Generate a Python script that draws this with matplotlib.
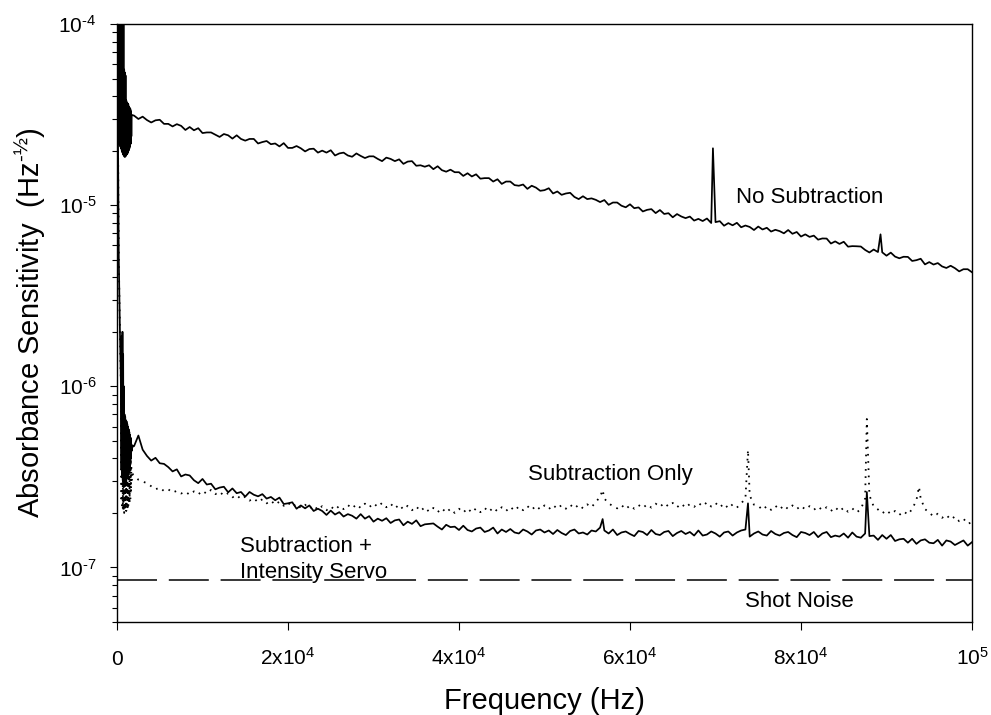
import numpy as np
import matplotlib
matplotlib.use("Agg")
import matplotlib.pyplot as plt

plt.rcParams['font.family'] = ['Liberation Sans', 'DejaVu Sans']
plt.rcParams['mathtext.fontset'] = 'custom'
plt.rcParams['mathtext.rm'] = 'Liberation Sans'
plt.rcParams['mathtext.it'] = 'Liberation Sans:italic'
plt.rcParams['mathtext.bf'] = 'Liberation Sans:bold'
plt.rcParams['axes.unicode_minus'] = False
plt.rcParams['lines.scale_dashes'] = False

# ---------------- data ----------------
# uniform spectral sampling grid (Hz) for the main part of each spectrum
main_freq = np.arange(2000, 100001, 500)

# "No Subtraction" (units of 1e-7)
nosub_low_freq = [0, 40, 80, 120, 160, 200, 240, 280, 320, 360, 400, 440, 480, 520, 560,
                  600, 640, 680, 720, 760, 800, 840, 880, 920, 960, 1000, 1040, 1080,
                  1120, 1160, 1200, 1240, 1280, 1320, 1360, 1400, 1440, 1480, 1520, 1560,
                  1600, 1640, 1680, 1720]
nosub_low_val = [300, 1600, 240, 1500, 225, 1400, 220, 1500, 215, 1300, 210, 1400, 205, 1250,
                 200, 1300, 195, 1200, 190, 1100, 188, 560, 185, 540, 185, 520, 187, 380,
                 190, 370, 192, 365, 195, 360, 200, 350, 205, 345, 210, 340, 218, 330, 240, 315]
nosub_main = [
    312, 299, 308, 295, 286, 294, 296, 281, 281, 272,
    280, 274, 260, 270, 259, 266, 250, 252, 252, 245,
    238, 247, 243, 233, 243, 232, 227, 232, 232, 219,
    223, 226, 217, 219, 211, 220, 207, 207, 212, 206,
    198, 204, 205, 195, 200, 195, 201, 188, 193, 195,
    188, 185, 193, 187, 182, 186, 186, 180, 175, 183,
    180, 175, 179, 169, 174, 175, 165, 166, 163, 166,
    158, 164, 156, 153, 157, 152, 152, 145, 150, 144,
    148, 140, 141, 141, 135, 139, 131, 135, 135, 129,
    128, 130, 123, 128, 125, 120, 121, 124, 116, 119,
    114, 116, 117, 111, 108, 112, 108, 109, 107, 104,
    106.7, 100.4, 103.4, 103.4, 99.3, 97.3, 101.1, 96.2, 97.2, 92.3,
    94.2, 95.1, 90.4, 94.0, 89.4, 90.3, 85.7, 89.3, 86.6, 84.8,
    86.5, 82.2, 84.0, 81.7, 84.4, 79.7, 80.6, 81.6, 77.0, 79.6,
    77.4, 79.9, 75.5, 77.2, 75.8, 72.9, 76.2, 73.4, 75.0, 71.5,
    73.1, 71.9, 69.9, 72.9, 69.5, 71.1, 67.1, 69.0, 66.8, 67.9,
    64.5, 65.5, 65.4, 61.4, 63.1, 61.1, 62.8, 59.0, 59.4, 59.3,
    59.1, 56.6, 54.8, 56.9, 55.1, 54.9, 52.6, 54.7, 52.0, 50.9,
    51.9, 51.8, 49.2, 49.7, 50.6, 47.1, 48.5, 47.0, 47.9, 45.9,
    45.0, 46.3, 44.9, 43.1, 44.3, 44.3, 42.6]
nosub_spike_freq = [69700, 89300]
nosub_spike_val = [206, 69.0]

# "Subtraction + Intensity Servo" (solid, units of 1e-9)
lower_low_freq = [0, 30, 60, 90, 120, 150, 180, 210, 240, 270, 300, 330, 360, 400, 440, 480,
                  520, 560, 600, 640, 680, 720, 760, 800, 840, 880, 920, 960, 1000, 1040,
                  1080, 1120, 1160, 1200, 1240, 1280, 1320, 1360, 1400, 1440, 1480, 1520,
                  1560, 1600, 1640, 1680, 1720, 1800, 1900]
servo_low_val = [150000, 100000, 60000, 35000, 18000, 10000, 7000, 5000, 4000, 3200, 2600,
                 2200, 1800, 1400, 1100, 900,
                 350, 1900, 320, 2000, 300, 1500, 290, 1000, 280, 700, 285, 680, 290, 650,
                 300, 640, 310, 620, 320, 600, 330, 580, 340, 560, 350, 540, 370, 520,
                 400, 480, 440, 470, 465]
servo_main = [
    468, 535, 447, 413, 389, 403, 376, 373, 358, 339,
    348, 318, 326, 322, 303, 292, 308, 287, 290, 270,
    276, 279, 260, 273, 257, 261, 246, 261, 252, 247,
    254, 240, 245, 235, 243, 224, 226, 229, 211, 220,
    212, 220, 205, 211, 205, 195, 206, 196, 202, 191,
    197, 193, 186, 197, 186, 192, 179, 186, 181, 187,
    176, 182, 184, 171, 179, 174, 182, 169, 173, 174,
    175, 168, 162, 172, 167, 168, 161, 170, 161, 158,
    164, 166, 157, 160, 166, 154, 162, 157, 163, 156,
    154, 162, 158, 152, 160, 162, 156, 160, 153, 161,
    155, 151, 159, 162, 154, 156, 152, 160, 158, 166,
    160, 154, 162, 151, 156, 158, 153, 149, 159, 157,
    151, 161, 153, 151, 157, 159, 149, 155, 159, 153,
    157, 150, 160, 150, 152, 158, 154, 148, 156, 158,
    150, 156, 160, 162, 148, 154, 158, 152, 150, 159,
    153, 150, 155, 157, 151, 147, 157, 155, 151, 157,
    147, 154, 157, 147, 150, 148, 154, 146, 156, 148,
    146, 154, 149, 150, 142, 151, 144, 151, 140, 143,
    144, 137, 144, 135, 141, 143, 137, 136, 142, 132,
    141, 139, 133, 137, 141, 132, 138]
servo_spike_freq = [56800, 73800, 87700]
servo_spike_val = [185, 226, 261]

# "Subtraction Only" (dotted, units of 1e-9)
subonly_low_val = [150000, 100000, 60000, 35000, 18000, 10000, 7000, 5000, 4000, 3200, 2600,
                   2200, 1800, 1400, 1100, 900,
                   230, 1200, 220, 900, 210, 700, 205, 650, 200, 620, 205, 600, 210, 580,
                   205, 560, 210, 540, 215, 520, 220, 500, 225, 480, 230, 450, 240, 400,
                   260, 360, 300, 330, 325]
subonly_main = [
    322, 305, 298, 292, 281, 270, 276, 264, 270, 259,
    265, 256, 262, 252, 263, 253, 265, 255, 268, 254,
    262, 249, 257, 244, 251, 238, 246, 234, 241, 229,
    238, 226, 234, 222, 231, 219, 228, 216, 225, 213,
    222, 211, 220, 208, 218, 207, 217, 208, 219, 210,
    221, 212, 223, 213, 225, 215, 226, 216, 227, 215,
    225, 212, 222, 209, 219, 207, 217, 205, 215, 203,
    213, 202, 212, 201, 211, 200, 211, 201, 212, 201,
    212, 202, 213, 203, 214, 204, 215, 205, 216, 206,
    217, 207, 218, 208, 219, 209, 220, 210, 221, 211,
    221, 211, 222, 212, 222, 212, 223, 215, 230, 245,
    240, 226, 218, 212, 221, 210, 220, 211, 221, 213,
    223, 214, 225, 216, 227, 217, 227, 215, 225, 214,
    224, 216, 227, 218, 229, 217, 227, 215, 225, 212,
    223, 214, 226, 240, 250, 222, 219, 208, 218, 208,
    219, 209, 220, 210, 220, 210, 219, 209, 218, 208,
    217, 207, 215, 205, 215, 204, 214, 203, 212, 201,
    210, 240, 250, 217, 209, 199, 207, 197, 205, 195,
    204, 196, 210, 235, 240, 210, 201, 191, 198, 188,
    195, 184, 191, 180, 186, 174, 178]
subonly_spike_freq = [56800, 73800, 87700, 93800]
subonly_spike_val = [268, 445, 660, 279]

shot_noise = 8.5e-8

xtick_pos = [0, 20000, 40000, 60000, 80000, 100000]
xtick_labels = ['0', '2x10$^{4}$', '4x10$^{4}$', '6x10$^{4}$', '8x10$^{4}$', '10$^{5}$']
ytick_pos = [1e-7, 1e-6, 1e-5, 1e-4]
ytick_labels = ['10$^{\\text{-7}}$', '10$^{\\text{-6}}$', '10$^{\\text{-5}}$', '10$^{\\text{-4}}$']


def build(low_f, low_v, main_v, spike_f, spike_v, unit):
    f = np.concatenate([np.asarray(low_f, float), main_freq.astype(float),
                        np.asarray(spike_f, float)])
    v = np.concatenate([np.asarray(low_v, float), np.asarray(main_v, float),
                        np.asarray(spike_v, float)]) * unit
    o = np.argsort(f, kind='stable')
    return f[o], v[o]


f_nosub, v_nosub = build(nosub_low_freq, nosub_low_val, nosub_main,
                         nosub_spike_freq, nosub_spike_val, 1e-7)
f_servo, v_servo = build(lower_low_freq, servo_low_val, servo_main,
                         servo_spike_freq, servo_spike_val, 1e-9)
f_sub, v_sub = build(lower_low_freq, subonly_low_val, subonly_main,
                     subonly_spike_freq, subonly_spike_val, 1e-9)

# ---------------- plot ----------------
fig = plt.figure(figsize=(9.91, 7.15), dpi=100)
ax = fig.add_axes([117 / 991, 93 / 715, 855 / 991, 598 / 715])

ax.axhline(shot_noise, color='black', lw=1.1, dashes=(28.8, 8.5))
ax.plot(f_sub, v_sub, color='black', lw=1.3, dashes=(1.2, 4.0))
ax.plot(f_servo, v_servo, color='black', lw=1.25)
ax.plot(f_nosub, v_nosub, color='black', lw=1.25)

ax.set_yscale('log')
ax.set_xlim(0, 100000)
ax.set_ylim(5e-8, 1e-4)

for s in ax.spines.values():
    s.set_linewidth(1.0)
    s.set_color('black')

ax.set_yticks(ytick_pos)
ax.set_yticklabels(ytick_labels)
ax.yaxis.set_minor_locator(matplotlib.ticker.LogLocator(base=10, subs=np.arange(2, 10)))
ax.yaxis.set_minor_formatter(matplotlib.ticker.NullFormatter())
ax.tick_params(axis='y', which='major', direction='out', length=5.3, width=0.8,
               labelsize=15, pad=9.5, right=False)
ax.tick_params(axis='y', which='minor', direction='out', length=3.4, width=0.8, right=False)

ax.set_xticks(xtick_pos)
ax.set_xticklabels([])
ax.tick_params(axis='x', which='major', direction='out', length=5.8, width=0.8, top=False)
ax.tick_params(axis='x', which='minor', bottom=False, top=False)
for xp, lab in zip(xtick_pos, xtick_labels):
    ax.text(xp, -0.0719, lab, transform=ax.get_xaxis_transform(), ha='center',
            va='baseline', fontsize=15)

ax.set_xlabel('Frequency (Hz)', fontsize=21)
ax.xaxis.label.set_va('baseline')
ax.xaxis.set_label_coords(0.5, -0.1455)

ax.set_ylabel('Absorbance Sensitivity  (Hz$^{\\text{-½}}$)', fontsize=21)
ax.yaxis.set_label_coords(-0.081, 0.5)

ax.text(0.724, 0.700, 'No Subtraction', transform=ax.transAxes, fontsize=16,
        ha='left', va='baseline')
ax.text(0.4807, 0.2375, 'Subtraction Only', transform=ax.transAxes, fontsize=16,
        ha='left', va='baseline')
ax.text(0.1439, 0.1176, 'Subtraction +', transform=ax.transAxes, fontsize=16,
        ha='left', va='baseline')
ax.text(0.1439, 0.0741, 'Intensity Servo', transform=ax.transAxes, fontsize=16,
        ha='left', va='baseline')
ax.text(0.7345, 0.0256, 'Shot Noise', transform=ax.transAxes, fontsize=16,
        ha='left', va='baseline')

fig.savefig('out.png', dpi=100)
